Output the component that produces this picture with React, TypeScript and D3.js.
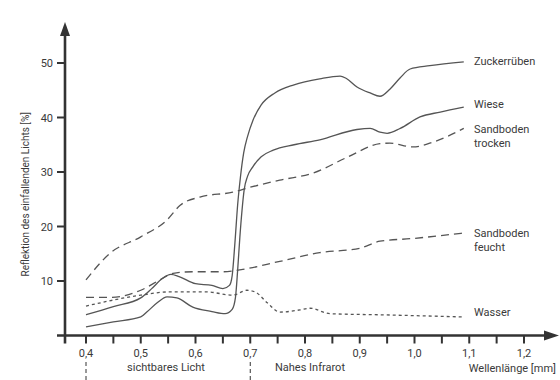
import React from "react";
import * as d3 from "d3";

type Pt = [number, number];

const xTicksLabeled = [0.4, 0.5, 0.6, 0.7, 0.8, 0.9, 1.0, 1.1, 1.2];
const xTicksMinor = [0.45, 0.55, 0.65, 0.75, 0.85, 0.95, 1.05, 1.15];
const yTicks = [10, 20, 30, 40, 50];

const zuckerrueben: Pt[] = [
  [0.4, 3.8], [0.45, 5.3], [0.5, 6.9], [0.52, 8.6], [0.54, 10.5], [0.555, 11.2],
  [0.57, 10.8], [0.6, 9.5], [0.63, 9.2], [0.65, 8.6], [0.662, 9.2], [0.667, 11],
  [0.672, 17], [0.677, 24], [0.682, 29], [0.688, 33.5], [0.695, 36.5], [0.705, 39.5],
  [0.72, 42.3], [0.745, 44.5], [0.78, 46.0], [0.827, 47.1], [0.864, 47.6], [0.875, 47.2],
  [0.895, 45.6], [0.919, 44.5], [0.937, 43.9], [0.955, 45.2], [0.974, 47.3],
  [0.992, 48.9], [1.028, 49.5], [1.09, 50.2],
];

const wiese: Pt[] = [
  [0.4, 1.6], [0.45, 2.5], [0.5, 3.4], [0.511, 4.3], [0.53, 6.0], [0.548, 7.1],
  [0.566, 6.9], [0.595, 5.2], [0.63, 4.4], [0.654, 4.0], [0.667, 4.8], [0.673, 7],
  [0.677, 12], [0.681, 18], [0.685, 23], [0.689, 26.8], [0.695, 29.2], [0.705, 31.0],
  [0.72, 32.8], [0.742, 34.0], [0.78, 35.0], [0.827, 35.9], [0.895, 37.8], [0.919, 38.0],
  [0.937, 37.3], [0.95, 37.1], [0.974, 38.0], [1.01, 40.1], [1.047, 41.0], [1.09, 41.9],
];

const sandTrocken: Pt[] = [
  [0.4, 10.2], [0.444, 15.1], [0.5, 18.1], [0.548, 21.2], [0.572, 23.9], [0.608, 25.4],
  [0.668, 26.3], [0.7, 27.2], [0.754, 28.5], [0.815, 29.8], [0.877, 32.7], [0.937, 35.2],
  [0.955, 35.3], [0.997, 34.6], [1.034, 35.5], [1.09, 38.0],
];

const sandFeucht: Pt[] = [
  [0.4, 7.0], [0.444, 7.0], [0.5, 8.3], [0.535, 10.2], [0.559, 11.4], [0.595, 11.7],
  [0.65, 11.7], [0.678, 12.0], [0.754, 13.6], [0.827, 15.2], [0.9, 16.0], [0.937, 17.3],
  [0.997, 17.8], [1.09, 18.8],
];

const wasser: Pt[] = [
  [0.4, 5.4], [0.5, 7.4], [0.553, 8.0], [0.62, 8.0], [0.668, 7.4], [0.694, 8.3],
  [0.709, 8.0], [0.731, 6.0], [0.754, 4.3], [0.791, 4.7], [0.809, 5.0], [0.846, 4.0],
  [0.937, 3.8], [1.09, 3.4],
];

const seriesLabels = [
  { lines: ["Zuckerrüben"], y: 50.3 },
  { lines: ["Wiese"], y: 42.4 },
  { lines: ["Sandboden", "trocken"], y: 37.8 },
  { lines: ["Sandboden", "feucht"], y: 18.8 },
  { lines: ["Wasser"], y: 4.4 },
];

const FONT = "Roboto, 'Open Sans', sans-serif";

export default function App() {
  const W = 560;
  const H = 380;
  const x = d3.scaleLinear().domain([0.4, 1.2]).range([86, 524]);
  const y = d3.scaleLinear().domain([0, 50]).range([335.5, 63]);
  const line = d3
    .line<Pt>()
    .x((d) => x(d[0]))
    .y((d) => y(d[1]))
    .curve(d3.curveMonotoneX);

  const axisColor = "#333";
  const lineColor = "#555";
  const textColor = "#3a3a3a";
  const x0 = y(0);
  const yAxisX = 65;

  const series = [
    { data: zuckerrueben, dash: "none" },
    { data: wiese, dash: "none" },
    { data: sandTrocken, dash: "8,5" },
    { data: sandFeucht, dash: "8,5" },
    { data: wasser, dash: "3,3" },
  ];

  return (
    <svg
      width={W}
      height={H}
      style={{ position: "absolute", left: 0, top: 0, background: "#fff" }}
      fontFamily={FONT}
    >
      {series.map((s, i) => (
        <path
          key={i}
          d={line(s.data) || ""}
          fill="none"
          stroke={lineColor}
          strokeWidth={1.3}
          strokeDasharray={s.dash}
        />
      ))}

      <line x1={yAxisX} x2={yAxisX} y1={x0 + 8} y2={34} stroke={axisColor} strokeWidth={2.6} />
      <path d={`M${yAxisX - 5},36 L${yAxisX},22 L${yAxisX + 5},36 Z`} fill={axisColor} />
      {yTicks.map((t) => (
        <g key={t}>
          <line x1={57} x2={yAxisX} y1={y(t)} y2={y(t)} stroke={axisColor} strokeWidth={2} />
          <text x={53} y={y(t) + 4} textAnchor="end" fontSize={11} fill={textColor}>
            {t}
          </text>
        </g>
      ))}
      <text
        transform={`translate(29,${(y(0) + y(50)) / 2 - 5}) rotate(-90)`}
        textAnchor="middle"
        fontSize={10}
        fill={textColor}
      >
        Reflektion des einfallenden Lichts [%]
      </text>

      <line x1={57} x2={546} y1={x0} y2={x0} stroke={axisColor} strokeWidth={2.6} />
      <path d={`M544,${x0 - 5} L559,${x0} L544,${x0 + 5} Z`} fill={axisColor} />
      {[...xTicksLabeled, ...xTicksMinor].map((t) => (
        <line
          key={t}
          x1={x(t)}
          x2={x(t)}
          y1={x0}
          y2={x0 + 8}
          stroke={axisColor}
          strokeWidth={2}
        />
      ))}
      {xTicksLabeled.map((t) => (
        <text key={t} x={x(t)} y={357} textAnchor="middle" fontSize={11} fill={textColor}>
          {t.toFixed(1).replace(".", ",")}
        </text>
      ))}
      <text x={166} y={371} textAnchor="middle" fontSize={11} fill={textColor}>
        sichtbares Licht
      </text>
      <text x={310} y={371} textAnchor="middle" fontSize={11} fill={textColor}>
        Nahes Infrarot
      </text>
      <text x={556} y={372} textAnchor="end" fontSize={11} fill={textColor}>
        Wellenlänge [mm]
      </text>
      {[0.4, 0.7].map((t) => (
        <line
          key={t}
          x1={x(t)}
          x2={x(t)}
          y1={362}
          y2={380}
          stroke={axisColor}
          strokeWidth={1}
          strokeDasharray="4,3"
        />
      ))}

      {seriesLabels.map((l, i) => (
        <text key={i} x={474} y={y(l.y) + 4} fontSize={11} fill={textColor}>
          {l.lines.map((s, j) => (
            <tspan key={j} x={474} dy={j === 0 ? 0 : 14}>
              {s}
            </tspan>
          ))}
        </text>
      ))}
    </svg>
  );
}
